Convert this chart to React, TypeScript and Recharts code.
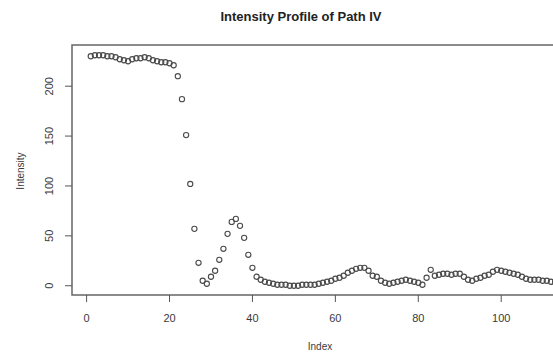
import React from 'react';
import { ScatterChart, Scatter, XAxis, YAxis, ReferenceArea } from 'recharts';

const intensity: number[] = [
  230, 231, 231, 231, 230, 230, 229, 227, 226, 225,
  227, 228, 228, 229, 228, 226, 225, 224, 224, 223,
  221, 210, 187, 151, 102, 57, 23, 5, 2, 9,
  15, 26, 37, 52, 64, 67, 60, 48, 31, 18,
  9, 6, 4, 3, 2, 1, 1, 1, 0, 0,
  0, 1, 1, 1, 1, 2, 3, 4, 5, 7,
  8, 10, 13, 15, 17, 18, 18, 15, 10, 9,
  5, 3, 2, 3, 4, 5, 6, 5, 4, 3,
  1, 8, 16, 10, 11, 12, 12, 11, 12, 12,
  9, 6, 5, 7, 8, 10, 11, 14, 16, 15,
  14, 13, 12, 11, 9, 7, 6, 6, 6, 5,
  5, 4, 4, 4,
];

const xTicks: number[] = [0, 20, 40, 60, 80, 100];
const yTicks: number[] = [0, 50, 100, 150, 200];

const data = intensity.map((v, i) => ({ index: i + 1, value: v }));

const X_DOMAIN: [number, number] = [-3.52, 118.52];
const Y_DOMAIN: [number, number] = [-9.28, 241.28];

const FONT = '"Liberation Sans", Arial, Helvetica, sans-serif';
const TEXT = '#3a3a3a';

const XTick = (props: any) => {
  const { x, y, payload } = props;
  return (
    <text x={x} y={y + 16} textAnchor="middle" dominantBaseline="central" fontSize={11} fill={TEXT} fontFamily={FONT}>
      {payload.value}
    </text>
  );
};

const YTick = (props: any) => {
  const { x, y, payload } = props;
  const cx = x - 16;
  return (
    <text x={cx} y={y} textAnchor="middle" dominantBaseline="central" fontSize={11} fill={TEXT} fontFamily={FONT}
      transform={`rotate(-90 ${cx} ${y})`}>
      {payload.value}
    </text>
  );
};

const Dot = (props: any) => {
  const { cx, cy } = props;
  if (cx == null || cy == null) return null;
  return <circle cx={cx} cy={cy} r={2.6} fill="none" stroke="#4a4a4a" strokeWidth={1.1} />;
};

export default function App() {
  return (
    <div style={{ position: 'absolute', left: 0, top: 0, width: 553, height: 352, overflow: 'hidden', background: '#fff' }}>
      <div style={{ position: 'absolute', left: 0, top: 9, width: 553, fontFamily: FONT, fontWeight: 'bold', fontSize: 13, color: '#222' }}>
        <span style={{ position: 'absolute', left: 301, transform: 'translateX(-50%)', whiteSpace: 'nowrap' }}>
          Intensity Profile of Path IV
        </span>
      </div>
      <div style={{ position: 'absolute', left: 305, top: 341, fontFamily: FONT, fontSize: 10, color: TEXT, width: 30, textAlign: 'center' }}>
        Index
      </div>
      <div style={{ position: 'absolute', left: 20, top: 171, fontFamily: FONT, fontSize: 10, color: TEXT, transform: 'translate(-50%, -50%) rotate(-90deg)', whiteSpace: 'nowrap' }}>
        Intensity
      </div>
      <ScatterChart width={600} height={352} margin={{ top: 45, right: 22, left: 0, bottom: 0 }}>
        <XAxis
          type="number"
          dataKey="index"
          domain={X_DOMAIN}
          ticks={xTicks}
          allowDataOverflow
          axisLine={false}
          tickLine={{ stroke: '#555', strokeWidth: 1 }}
          tickSize={7}
          tickMargin={0}
          height={57}
          tick={<XTick />}
        />
        <YAxis
          type="number"
          dataKey="value"
          domain={Y_DOMAIN}
          ticks={yTicks}
          allowDataOverflow
          axisLine={false}
          tickLine={{ stroke: '#555', strokeWidth: 1 }}
          tickSize={7}
          tickMargin={0}
          width={72}
          tick={<YTick />}
        />
        <ReferenceArea
          x1={X_DOMAIN[0]}
          x2={X_DOMAIN[1]}
          y1={Y_DOMAIN[0]}
          y2={Y_DOMAIN[1]}
          fill="none"
          stroke="#666"
          strokeWidth={1.5}
          ifOverflow="visible"
        />
        <Scatter data={data} isAnimationActive={false} shape={<Dot />} />
      </ScatterChart>
    </div>
  );
}
